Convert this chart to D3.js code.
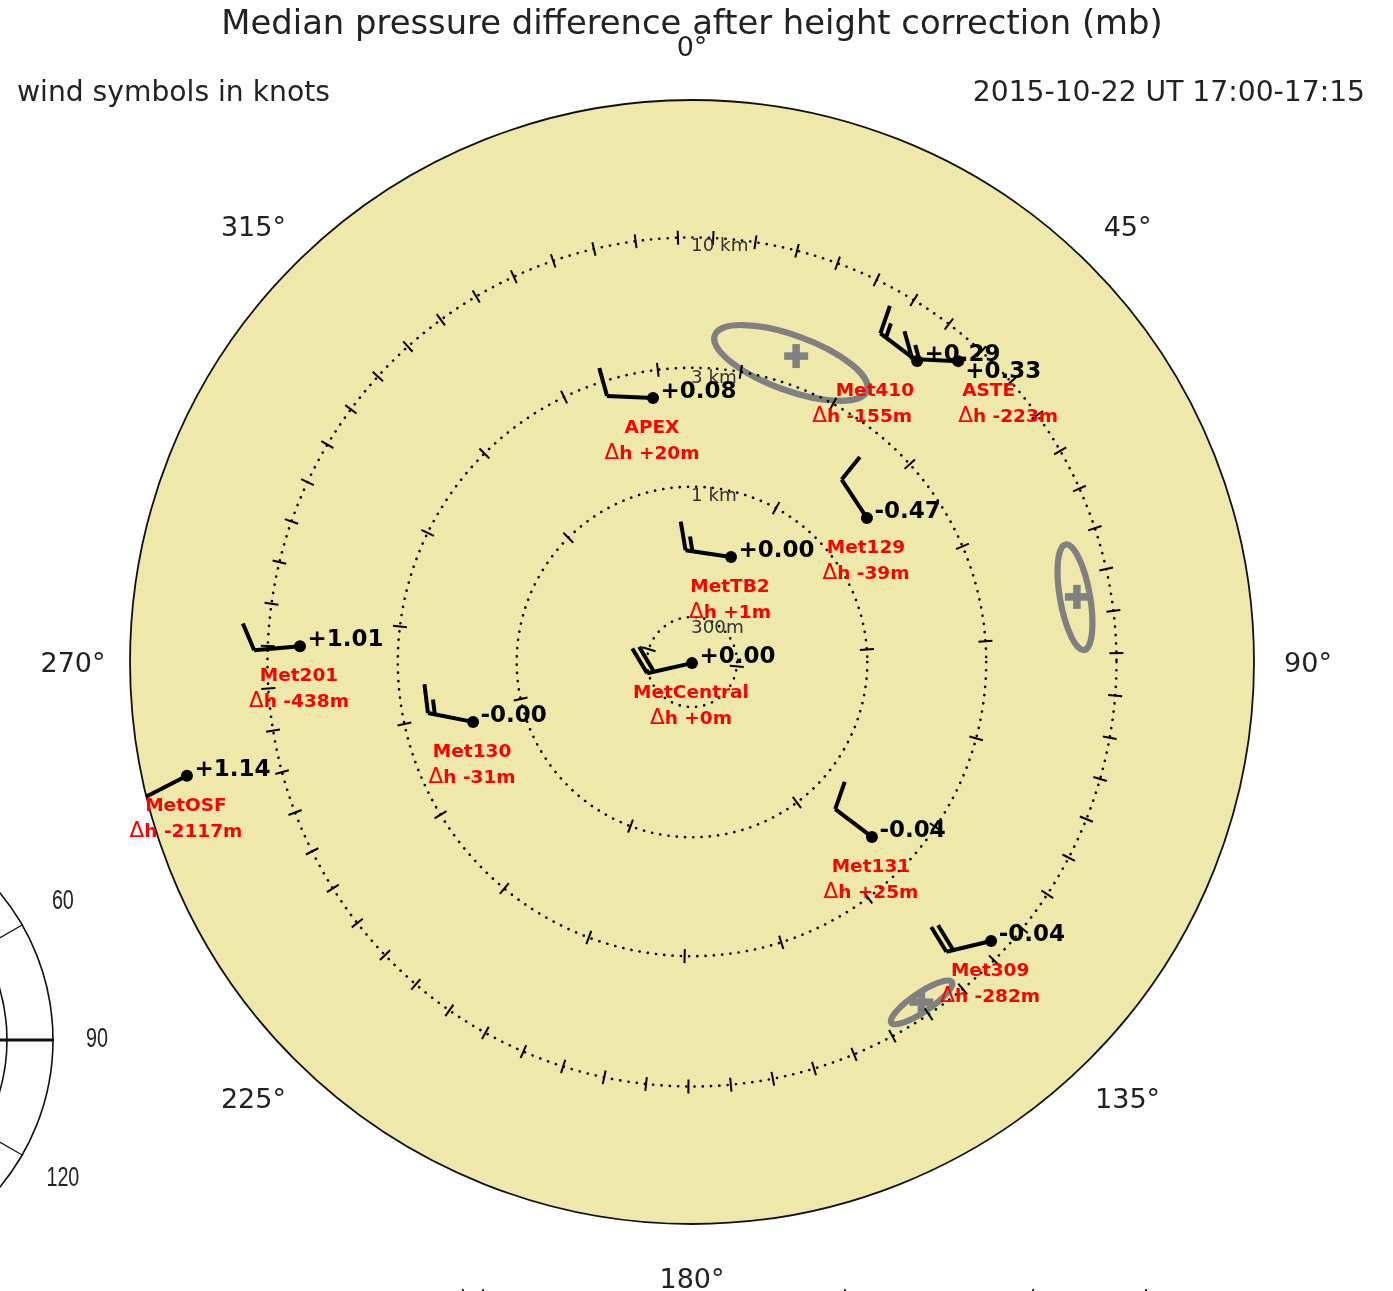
<!DOCTYPE html>
<html><head><meta charset="utf-8">
<script src="https://cdnjs.cloudflare.com/ajax/libs/d3/7.8.5/d3.min.js"></script>
<style>html,body{margin:0;padding:0;background:#fff;overflow:hidden}svg{display:block;filter:blur(0.6px)}text{font-family:"DejaVu Sans",sans-serif}</style>
</head><body><div id="chart"></div>
<script>
// ---- data ----
const stationNames   = ["MetCentral","MetTB2","APEX","Met410","ASTE","Met129","Met131","Met309","Met130","Met201","MetOSF"];
const stationAz      = [180,20.4,351.6,36.8,41.5,50.55,134.2,133,254.7,272.3,257.3];   // deg from north
const stationDist    = [200,557,2331,6376,8102,1606,2012,8667,1612,7428,23660];        // metres
const pressureDiff   = ["+0.00","+0.00","+0.08","+0.29","+0.33","-0.47","-0.04","-0.04","-0.00","+1.01","+1.14"];
const heightDiff     = [0,1,20,-155,-223,-39,25,-282,-31,-438,-2117];
const windAz         = [257.2,278.5,272.5,307.1,272.5,326.7,307.1,256.5,281.1,265,243]; // deg
const windKnots      = [20,15,10,15,15,10,10,20,15,10,2];

const ringDist       = [300,1000,3000,10000];
const ringLabels     = ["300m","1 km","3 km","10 km"];
const azimuthTicks   = [0,45,90,135,180,225,270,315];

const ellipseAz      = [18.3,80.4,146];
const ellipseDist    = [3637,7165,8792];
const ellipseMajor   = [81,53.5,36.5];
const ellipseMinor   = [27.5,15,9.5];
const ellipseTilt    = [20,80,-34];
const crossAz        = [18.8,80.4,146];
const crossDist      = [3921,7296,8770];

const insetAngles    = [60,90,120];
const insetRadii     = [184,230];
const cutoffTextX    = [462,482,844,1032,1145];

// ---- layout ----
const W=1393,H=1291,cx=692,cy=662,R=562;
const rad=d3.scaleLog().domain([300,10000]).range([45,424.5]);
const toRad=d=>d*Math.PI/180;
const pt=(az,d)=>{const p=d3.pointRadial(toRad(az),rad(d));return [cx+p[0],cy+p[1]];};
const off=(p,az,len)=>{const q=d3.pointRadial(toRad(az),len);return [p[0]+q[0],p[1]+q[1]];};

const svg=d3.select("#chart").append("svg").attr("width",W).attr("height",H).attr("viewBox",[0,0,W,H]);
const line=d3.line();

// inset fragment (partly off-page polar plot)
const ix=-177,iy=1040;
const inset=svg.append("g").attr("stroke","#111").attr("fill","none");
inset.selectAll("circle").data(insetRadii).join("circle").attr("cx",ix).attr("cy",iy).attr("r",d=>d).attr("stroke-width",1.6);
inset.selectAll("line").data(insetAngles).join("line")
  .attr("x1",ix).attr("y1",iy)
  .attr("x2",d=>ix+231*Math.sin(toRad(d))).attr("y2",d=>iy-231*Math.cos(toRad(d)))
  .attr("stroke-width",d=>d===90?2.8:1.2);
svg.append("g").selectAll("text").data(insetAngles).join("text")
  .attr("x",d=>ix+(d===90?274:277)*Math.sin(toRad(d)))
  .attr("y",d=>iy-277*Math.cos(toRad(d))+7)
  .attr("text-anchor","middle").attr("fill","#222")
  .attr("textLength",d=>String(d).length*11).attr("lengthAdjust","spacingAndGlyphs")
  .style("font-family","'Liberation Sans',sans-serif").style("font-size","27px")
  .text(d=>d);

// sky disc
svg.append("circle").attr("cx",cx).attr("cy",cy).attr("r",R).attr("fill","#EEE8AA").attr("stroke","#111").attr("stroke-width",1.8);

// beam ellipses
const eg=svg.append("g").attr("fill","none").attr("stroke","#808080").attr("stroke-width",6.2);
eg.selectAll("ellipse").data(ellipseAz).join("ellipse")
  .attr("rx",(d,i)=>ellipseMajor[i]).attr("ry",(d,i)=>ellipseMinor[i])
  .attr("transform",(d,i)=>{const p=pt(d,ellipseDist[i]);return `translate(${p[0]},${p[1]}) rotate(${ellipseTilt[i]})`;});
const cg=svg.append("g").attr("fill","none").attr("stroke","#808080").attr("stroke-width",7.5);
crossAz.forEach((a,i)=>{const p=pt(a,crossDist[i]);
  cg.append("path").attr("d",line([[p[0]-12,p[1]],[p[0]+12,p[1]]]));
  cg.append("path").attr("d",line([[p[0],p[1]-12],[p[0],p[1]+12]]));});

// range rings with a tick every km of arc
const rg=svg.append("g").attr("fill","none").attr("stroke","#000");
rg.selectAll("circle").data(ringDist).join("circle").attr("cx",cx).attr("cy",cy).attr("r",d=>rad(d))
  .attr("stroke-width",2.6).attr("stroke-linecap","round").attr("stroke-dasharray","0.1,8.2");
ringDist.forEach(d=>{
  const km=d/1000;
  d3.range(0.5,2*Math.PI*km,1).forEach(s=>{
    const a=s/km*180/Math.PI, r=rad(d), u=d3.pointRadial(toRad(a),1);
    rg.append("line").attr("stroke-width",2)
      .attr("x1",cx+u[0]*(r-7)).attr("y1",cy+u[1]*(r-7)).attr("x2",cx+u[0]*(r+7)).attr("y2",cy+u[1]*(r+7));
  });
});
const ringLabelDy=[16,14,15,13];
svg.append("g").selectAll("text").data(ringDist).join("text")
  .attr("x",cx-1).attr("y",(d,i)=>cy-rad(d)+ringLabelDy[i])
  .attr("fill","#333").style("font-size","18.3px").text((d,i)=>ringLabels[i]);

// wind barbs
const shaft=46,longBarb=29,shortBarb=15,barbStep=7,barbAngle=72;
const bg=svg.append("g").attr("fill","none").attr("stroke","#000").attr("stroke-width",4);
stationNames.forEach((n,i)=>{
  const p=pt(stationAz[i],stationDist[i]), az=windAz[i], kt=windKnots[i];
  const nLong=Math.floor(kt/10), half=kt%10>=5;
  const end=off(p,az,shaft);
  bg.append("path").attr("d",line([p,end]));
  d3.range(nLong).forEach(k=>{const b=off(p,az,shaft-k*barbStep);
    bg.append("path").attr("d",line([b,off(b,az+barbAngle,longBarb)]));});
  if(half){const b=off(p,az,shaft-nLong*barbStep);
    bg.append("path").attr("d",line([b,off(b,az+barbAngle,shortBarb)]));}
  svg.append("circle").attr("cx",p[0]).attr("cy",p[1]).attr("r",6).attr("fill","#000");
});

// pressure + labels
const pressOffset={ASTE:[7,17]};
const nameAnchor={Met410:["end",-3],ASTE:["start",4]};
const dhAnchor={Met410:["end",-5],ASTE:["start",0]};
const pg=svg.append("g"), lg=svg.append("g").attr("fill","#f00");
stationNames.forEach((n,i)=>{
  const p=pt(stationAz[i],stationDist[i]);
  const po=pressOffset[n]||[7.5,0];
  pg.append("text").attr("x",p[0]+po[0]).attr("y",p[1]+po[1]).attr("fill","#000")
    .style("font-size","23px").style("font-weight","bold").text(pressureDiff[i]);
  const na=nameAnchor[n]||["middle",-1], da=dhAnchor[n]||["middle",-1];
  lg.append("text").attr("x",p[0]+na[1]).attr("y",p[1]+35).attr("text-anchor",na[0])
    .style("font-size","18.5px").style("font-weight","bold").text(n);
  const t=lg.append("text").attr("x",p[0]+da[1]).attr("y",p[1]+61).attr("text-anchor",da[0])
    .style("font-size","18.5px").style("font-weight","bold");
  t.append("tspan").style("font-weight","normal").style("font-size","21.5px").text("\u0394");
  t.append("tspan").text("h "+(heightDiff[i]<0?"-":"+")+Math.abs(heightDiff[i])+"m");
});

// azimuth labels
svg.append("g").selectAll("text").data(azimuthTicks).join("text")
  .each(function(d){const q=d3.pointRadial(toRad(d),616);
    d3.select(this).attr("x",cx+q[0]-(d>180?3:0)).attr("y",cy+q[1]+10);})
  .attr("text-anchor","middle").attr("fill","#222").style("font-size","27px").text(d=>d+"\u00b0");

// headings
svg.append("text").attr("x",cx).attr("y",34).attr("text-anchor","middle").attr("fill","#222").style("font-size","33.8px")
  .text("Median pressure difference after height correction (mb)");
svg.append("text").attr("x",17).attr("y",101).attr("fill","#222").style("font-size","28.2px").text("wind symbols in knots");
svg.append("text").attr("x",1365).attr("y",101).attr("text-anchor","end").attr("fill","#222").style("font-size","28.2px").text("2015-10-22 UT 17:00-17:15");

// tops of clipped text at the page foot
svg.append("g").selectAll("rect").data(cutoffTextX).join("rect")
  .attr("x",d=>d).attr("y",H-2).attr("width",2).attr("height",2).attr("fill","#333");
</script></body></html>
